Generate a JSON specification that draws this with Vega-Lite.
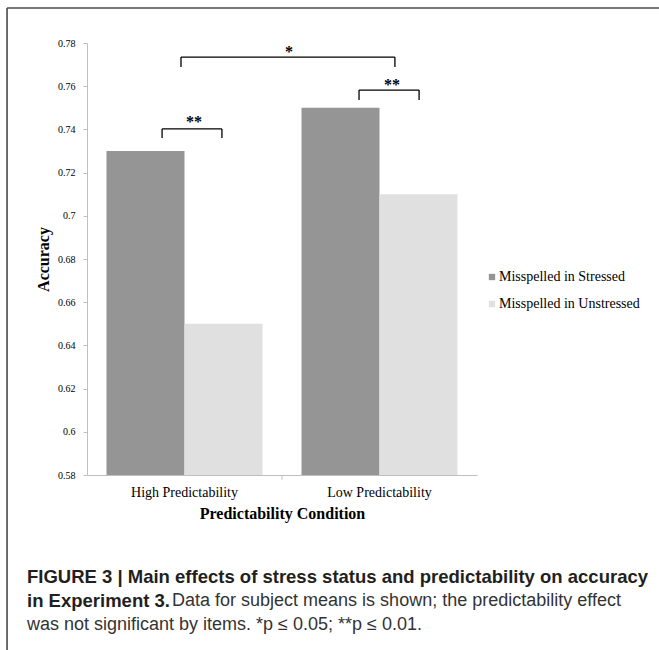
{
  "$schema": "https://vega.github.io/schema/vega-lite/v6.json",
  "width": 390,
  "height": 432,
  "autosize": "none",
  "padding": {"left": 87, "top": 43, "right": 182, "bottom": 175},
  "background": "white",
  "title": {
    "text": ["FIGURE 3 | Main effects of stress status and predictability on accuracy", "in Experiment 3."],
    "subtitle": ["\u200b\u00a0\u00a0\u00a0\u00a0\u00a0\u00a0\u00a0\u00a0\u00a0\u00a0\u00a0\u00a0\u00a0\u00a0\u00a0\u00a0\u00a0\u00a0\u00a0\u00a0\u00a0\u00a0\u00a0\u00a0\u00a0\u00a0\u00a0\u00a0\u00a0Data for subject means is shown; the predictability effect", "was not significant by items. *p ≤ 0.05; **p ≤ 0.01."],
    "orient": "bottom",
    "anchor": "start",
    "frame": "group",
    "dx": -60,
    "offset": -83,
    "font": "Liberation Sans",
    "fontSize": 18.5,
    "fontWeight": "bold",
    "color": "#231f20",
    "lineHeight": 24,
    "subtitleFont": "Liberation Sans",
    "subtitleFontSize": 18,
    "subtitleFontWeight": "normal",
    "subtitleColor": "#333333",
    "subtitleLineHeight": 24,
    "subtitlePadding": -18
  },
  "config": {
    "view": {"stroke": null},
    "axis": {
      "domainColor": "#bfbfbf",
      "tickColor": "#bfbfbf",
      "labelColor": "#000000",
      "titleColor": "#000000",
      "labelFont": "Liberation Serif",
      "titleFont": "Liberation Serif",
      "grid": false
    }
  },
  "datasets": {
    "bars": [
      {"condition": "High Predictability", "series": "Misspelled in Stressed", "accuracy": 0.73},
      {"condition": "High Predictability", "series": "Misspelled in Unstressed", "accuracy": 0.65},
      {"condition": "Low Predictability", "series": "Misspelled in Stressed", "accuracy": 0.75},
      {"condition": "Low Predictability", "series": "Misspelled in Unstressed", "accuracy": 0.71}
    ]
  },
  "resolve": {"scale": {"x": "independent"}},
  "layer": [
    {
      "data": {"name": "bars"},
      "mark": {"type": "bar"},
      "encoding": {
        "x": {
          "field": "condition", "type": "nominal",
          "sort": ["High Predictability", "Low Predictability"],
          "scale": {"paddingInner": 0.2, "paddingOuter": 0.1},
          "axis": {"title": "Predictability Condition", "ticks": false, "labelAngle": 0, "labelFontSize": 14, "labelPadding": 10, "titleFontSize": 16, "titleFontWeight": "bold", "titlePadding": 6}
        },
        "xOffset": {
          "field": "series", "type": "nominal",
          "sort": ["Misspelled in Stressed", "Misspelled in Unstressed"],
          "scale": {"paddingInner": 0, "paddingOuter": 0}
        },
        "y": {
          "field": "accuracy", "type": "quantitative",
          "scale": {"domain": [0.58, 0.78], "zero": false, "nice": false},
          "axis": {"title": "Accuracy", "values": [0.58, 0.6, 0.62, 0.64, 0.66, 0.68, 0.7, 0.72, 0.74, 0.76, 0.78], "format": ".2~f", "labelFontSize": 10, "tickSize": 4, "labelPadding": 8, "titleFontSize": 16, "titleFontWeight": "bold", "titlePadding": 6}
        },
        "y2": {"datum": 0.58},
        "color": {
          "field": "series", "type": "nominal",
          "scale": {"domain": ["Misspelled in Stressed", "Misspelled in Unstressed"], "range": ["#959595", "#e0e0e0"]},
          "legend": {"title": null, "orient": "none", "legendX": 398, "legendY": 227, "symbolType": "square", "symbolSize": 40, "symbolStrokeWidth": 0, "labelFont": "Liberation Serif", "labelFontSize": 14, "labelColor": "#000000", "rowPadding": 13, "labelOffset": 0, "padding": 0}
        }
      }
    },
    {
      "data": {"values": [{}]},
      "layer": [
        {"mark": {"type": "rule", "color": "#000000", "strokeWidth": 1.3}, "encoding": {"x": {"datum": 0.385, "type": "quantitative", "scale": {"domain": [0, 2], "nice": false, "zero": false}, "axis": null}, "x2": {"datum": 0.692}, "y": {"datum": 0.7402, "type": "quantitative", "scale": {"domain": [0.58, 0.78], "nice": false, "zero": false}}}},
        {"mark": {"type": "rule", "color": "#000000", "strokeWidth": 1.3}, "encoding": {"x": {"datum": 0.385, "type": "quantitative", "scale": {"domain": [0, 2], "nice": false, "zero": false}, "axis": null}, "y": {"datum": 0.7402, "type": "quantitative", "scale": {"domain": [0.58, 0.78], "nice": false, "zero": false}}, "y2": {"datum": 0.736}}},
        {"mark": {"type": "rule", "color": "#000000", "strokeWidth": 1.3}, "encoding": {"x": {"datum": 0.692, "type": "quantitative", "scale": {"domain": [0, 2], "nice": false, "zero": false}, "axis": null}, "y": {"datum": 0.7402, "type": "quantitative", "scale": {"domain": [0.58, 0.78], "nice": false, "zero": false}}, "y2": {"datum": 0.736}}},

        {"mark": {"type": "rule", "color": "#000000", "strokeWidth": 1.3}, "encoding": {"x": {"datum": 1.395, "type": "quantitative", "scale": {"domain": [0, 2], "nice": false, "zero": false}, "axis": null}, "x2": {"datum": 1.703}, "y": {"datum": 0.7582, "type": "quantitative", "scale": {"domain": [0.58, 0.78], "nice": false, "zero": false}}}},
        {"mark": {"type": "rule", "color": "#000000", "strokeWidth": 1.3}, "encoding": {"x": {"datum": 1.395, "type": "quantitative", "scale": {"domain": [0, 2], "nice": false, "zero": false}, "axis": null}, "y": {"datum": 0.7582, "type": "quantitative", "scale": {"domain": [0.58, 0.78], "nice": false, "zero": false}}, "y2": {"datum": 0.7536}}},
        {"mark": {"type": "rule", "color": "#000000", "strokeWidth": 1.3}, "encoding": {"x": {"datum": 1.703, "type": "quantitative", "scale": {"domain": [0, 2], "nice": false, "zero": false}, "axis": null}, "y": {"datum": 0.7582, "type": "quantitative", "scale": {"domain": [0.58, 0.78], "nice": false, "zero": false}}, "y2": {"datum": 0.7536}}},

        {"mark": {"type": "rule", "color": "#000000", "strokeWidth": 1.3}, "encoding": {"x": {"datum": 0.482, "type": "quantitative", "scale": {"domain": [0, 2], "nice": false, "zero": false}, "axis": null}, "x2": {"datum": 1.579}, "y": {"datum": 0.7735, "type": "quantitative", "scale": {"domain": [0.58, 0.78], "nice": false, "zero": false}}}},
        {"mark": {"type": "rule", "color": "#000000", "strokeWidth": 1.3}, "encoding": {"x": {"datum": 0.482, "type": "quantitative", "scale": {"domain": [0, 2], "nice": false, "zero": false}, "axis": null}, "y": {"datum": 0.7735, "type": "quantitative", "scale": {"domain": [0.58, 0.78], "nice": false, "zero": false}}, "y2": {"datum": 0.7689}}},
        {"mark": {"type": "rule", "color": "#000000", "strokeWidth": 1.3}, "encoding": {"x": {"datum": 1.579, "type": "quantitative", "scale": {"domain": [0, 2], "nice": false, "zero": false}, "axis": null}, "y": {"datum": 0.7735, "type": "quantitative", "scale": {"domain": [0.58, 0.78], "nice": false, "zero": false}}, "y2": {"datum": 0.7689}}},

        {"mark": {"type": "text", "text": "**", "font": "Liberation Serif", "fontSize": 16, "fontWeight": "bold", "align": "center", "baseline": "middle", "color": "#000000"}, "encoding": {"x": {"datum": 0.549, "type": "quantitative", "scale": {"domain": [0, 2], "nice": false, "zero": false}, "axis": null}, "y": {"datum": 0.7434, "type": "quantitative", "scale": {"domain": [0.58, 0.78], "nice": false, "zero": false}}}},
        {"mark": {"type": "text", "text": "**", "font": "Liberation Serif", "fontSize": 16, "fontWeight": "bold", "align": "center", "baseline": "middle", "color": "#000000"}, "encoding": {"x": {"datum": 1.564, "type": "quantitative", "scale": {"domain": [0, 2], "nice": false, "zero": false}, "axis": null}, "y": {"datum": 0.7606, "type": "quantitative", "scale": {"domain": [0.58, 0.78], "nice": false, "zero": false}}}},
        {"mark": {"type": "text", "text": "*", "font": "Liberation Serif", "fontSize": 16, "fontWeight": "bold", "align": "center", "baseline": "middle", "color": "#000000"}, "encoding": {"x": {"datum": 1.036, "type": "quantitative", "scale": {"domain": [0, 2], "nice": false, "zero": false}, "axis": null}, "y": {"datum": 0.7758, "type": "quantitative", "scale": {"domain": [0.58, 0.78], "nice": false, "zero": false}}}},

        {"mark": {"type": "rule", "color": "#bfbfbf", "strokeWidth": 1}, "encoding": {"x": {"datum": 1.0, "type": "quantitative", "scale": {"domain": [0, 2], "nice": false, "zero": false}, "axis": null}, "y": {"datum": 0.58, "type": "quantitative", "scale": {"domain": [0.58, 0.78], "nice": false, "zero": false}}, "y2": {"datum": 0.5778}}},

        {"mark": {"type": "rule", "color": "#4a4a4a", "strokeWidth": 1.6}, "encoding": {"x": {"datum": -0.41, "type": "quantitative", "scale": {"domain": [0, 2], "nice": false, "zero": false}, "axis": null}, "x2": {"datum": 3.0}, "y": {"datum": 0.7962, "type": "quantitative", "scale": {"domain": [0.58, 0.78], "nice": false, "zero": false}}}},
        {"mark": {"type": "rule", "color": "#4a4a4a", "strokeWidth": 1.6}, "encoding": {"x": {"datum": -0.41, "type": "quantitative", "scale": {"domain": [0, 2], "nice": false, "zero": false}, "axis": null}, "y": {"datum": 0.7962, "type": "quantitative", "scale": {"domain": [0.58, 0.78], "nice": false, "zero": false}}, "y2": {"datum": 0.499}}}
      ]
    }
  ]
}
